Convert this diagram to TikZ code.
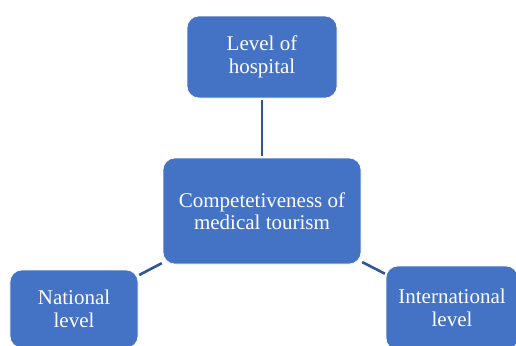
\documentclass[tikz,border=0pt]{standalone}
\usepackage{fontspec}
\setmainfont{Liberation Serif}
\begin{document}
\begin{tikzpicture}[x=1bp,y=-1bp,
  block/.style={draw=white, line width=0.6bp, fill=boxblue, rounded corners=12bp,
    text=white, align=center, inner sep=0pt,
    font=\fontsize{21bp}{22.5bp}\selectfont},
  link/.style={draw=lineblue, line width=2.6bp}]
\definecolor{boxblue}{HTML}{4472C4}
\definecolor{lineblue}{HTML}{2F5597}
\useasboundingbox (0,0) rectangle (516,345);
\node[block, minimum width=150bp, minimum height=82bp] (top) at (262,57) {Level of\\hospital};
\node[block, minimum width=198bp, minimum height=106bp] (ctr) at (262,211) {Competetiveness of\\medical tourism};
\node[block, minimum width=128bp, minimum height=78bp] (nat) at (74,309) {National\\level};
\node[block, minimum width=132bp, minimum height=84bp] (int) at (452,308) {International\\level};
\draw[link, shorten <=2bp, shorten >=2bp] (top) -- (ctr);
\draw[link, shorten <=1bp, shorten >=1bp] (nat) -- (ctr);
\draw[link, shorten <=1bp, shorten >=1bp] (int) -- (ctr);
\end{tikzpicture}
\end{document}
